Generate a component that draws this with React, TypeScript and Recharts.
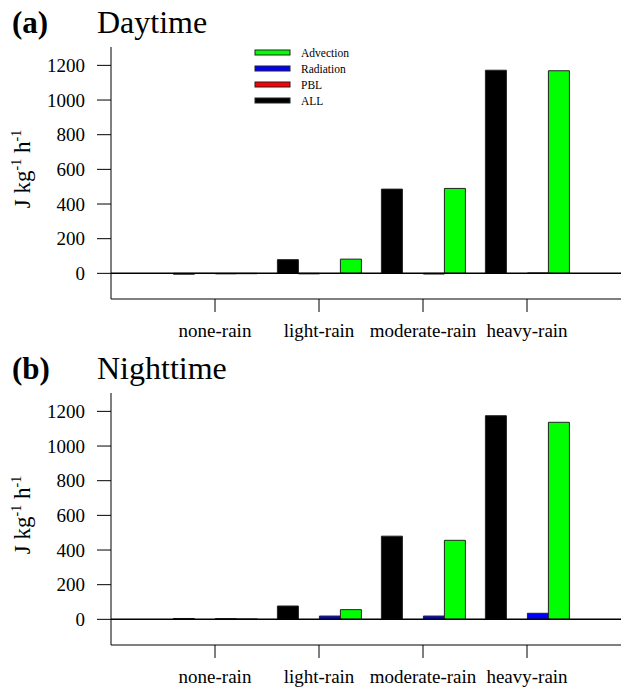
import React from 'react';
import { BarChart, Bar, XAxis, YAxis, ReferenceLine } from 'recharts';

const categories = ['none-rain', 'light-rain', 'moderate-rain', 'heavy-rain'];
const dayAll = [-5, 79, 486, 1172];
const dayPBL = [-1, -3, 0, 0];
const dayRadiation = [-3, 0, -4, 2];
const dayAdvection = [-2, 82, 490, 1169];
const nightAll = [5, 77, 480, 1175];
const nightPBL = [0, 0, 0, 0];
const nightRadiation = [4, 19, 19, 35];
const nightAdvection = [2, 56, 456, 1137];
const yTicks = [0, 200, 400, 600, 800, 1000, 1200];

const legendItems = [
  { name: 'Advection', color: '#00ff00' },
  { name: 'Radiation', color: '#0000ff' },
  { name: 'PBL', color: '#ff0000' },
  { name: 'ALL', color: '#000000' },
];

const build = (all: number[], pbl: number[], rad: number[], adv: number[]) =>
  categories.map((c, i) => ({ category: c, all: all[i], pbl: pbl[i], rad: rad[i], adv: adv[i] }));

const dayData = build(dayAll, dayPBL, dayRadiation, dayAdvection);
const nightData = build(nightAll, nightPBL, nightRadiation, nightAdvection);

const FONT = '"Liberation Serif", "Times New Roman", serif';
const W = 630;
const H = 346;

const XTick = (props: any) => {
  const { x, y, payload } = props;
  return (
    <text x={x} y={y + 13.5} textAnchor="middle" fontSize={19} fontFamily={FONT} fill="#000">
      {payload.value}
    </text>
  );
};

const YTick = (props: any) => {
  const { x, y, payload } = props;
  return (
    <text x={x} y={y + 6.5} textAnchor="end" fontSize={19} fontFamily={FONT} fill="#000">
      {payload.value}
    </text>
  );
};

const Panel = ({ data }: { data: any[] }) => (
  <BarChart
    width={W}
    height={H}
    data={data}
    margin={{ top: 47, right: 0, left: 51, bottom: 7 }}
    barCategoryGap="10%"
    barGap={0}
    style={{ fontFamily: FONT }}
  >
    <XAxis
      dataKey="category"
      height={40}
      padding={{ left: 52, right: 51 }}
      interval={0}
      tickSize={13}
      tickMargin={11}
      stroke="#000"
      tick={<XTick />}
    />
    <YAxis
      domain={[-148, 1306]}
      ticks={yTicks}
      interval={0}
      width={60}
      tickSize={14}
      tickMargin={12}
      stroke="#000"
      allowDataOverflow
      tick={<YTick />}
    />
    <ReferenceLine y={0} stroke="#000" strokeWidth={1.5} />
    <Bar dataKey="all" name="ALL" fill="#000000" stroke="#222" strokeWidth={1} isAnimationActive={false} />
    <Bar dataKey="pbl" name="PBL" fill="#ff0000" stroke="#222" strokeWidth={1} isAnimationActive={false} />
    <Bar dataKey="rad" name="Radiation" fill="#0000ff" stroke="#222" strokeWidth={1} isAnimationActive={false} />
    <Bar dataKey="adv" name="Advection" fill="#00ff00" stroke="#222" strokeWidth={1} isAnimationActive={false} />
  </BarChart>
);

const YLabel = ({ cy }: { cy: number }) => (
  <text
    transform={`translate(30, ${cy}) rotate(-90)`}
    textAnchor="middle"
    fontSize={23}
    fontFamily={FONT}
    fill="#000"
  >
    J kg
    <tspan dy={-9} fontSize={14}>-1</tspan>
    <tspan dy={9}> h</tspan>
    <tspan dy={-9} fontSize={14}>-1</tspan>
  </text>
);

export default function App() {
  return (
    <div style={{ position: 'absolute', left: 0, top: 0, width: 621, height: 688, overflow: 'hidden', background: '#fff', fontFamily: FONT }}>
      <div style={{ position: 'absolute', left: 0, top: 0 }}>
        <Panel data={dayData} />
      </div>
      <div style={{ position: 'absolute', left: 0, top: 346 }}>
        <Panel data={nightData} />
      </div>
      <svg width={621} height={688} style={{ position: 'absolute', left: 0, top: 0, pointerEvents: 'none' }}>
        <text x={12} y={33} fontSize={31} fontWeight="bold" fontFamily={FONT} fill="#000">(a)</text>
        <text x={97} y={33} fontSize={32} fontFamily={FONT} fill="#000">Daytime</text>
        <text x={12} y={379} fontSize={31} fontWeight="bold" fontFamily={FONT} fill="#000">(b)</text>
        <text x={97} y={379} fontSize={32} fontFamily={FONT} fill="#000">Nighttime</text>
        <YLabel cy={169} />
        <YLabel cy={515} />
        <g>
          {legendItems.map((it, i) => (
            <g key={it.name}>
              <rect x={255} y={50 + i * 16} width={35} height={5} fill={it.color} stroke="#222" strokeWidth={1} />
              <text x={301} y={56.5 + i * 16} fontSize={11.5} fontFamily={FONT} fill="#000">
                {it.name}
              </text>
            </g>
          ))}
        </g>
      </svg>
    </div>
  );
}
